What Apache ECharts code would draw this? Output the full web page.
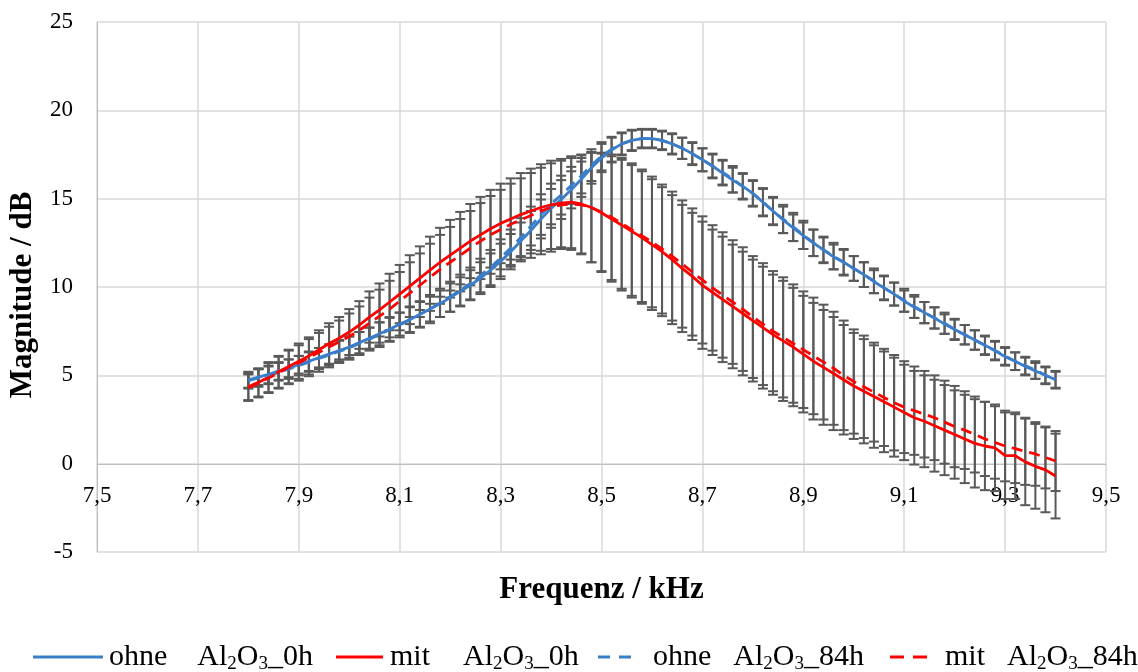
<!DOCTYPE html>
<html><head><meta charset="utf-8">
<script src="https://cdn.jsdelivr.net/npm/echarts@6/dist/echarts.min.js"></script>
<style>html,body{margin:0;padding:0;background:#fff}#c{width:1138px;height:672px}</style>
</head><body><div id="c"></div>
<script>
const freq = [7.80,7.82,7.84,7.86,7.88,7.90,7.92,7.94,7.96,7.98,
8.00,8.02,8.04,8.06,8.08,8.10,8.12,8.14,8.16,8.18,
8.20,8.22,8.24,8.26,8.28,8.30,8.32,8.34,8.36,8.38,
8.40,8.42,8.44,8.46,8.48,8.50,8.52,8.54,8.56,8.58,
8.60,8.62,8.64,8.66,8.68,8.70,8.72,8.74,8.76,8.78,
8.80,8.82,8.84,8.86,8.88,8.90,8.92,8.94,8.96,8.98,
9.00,9.02,9.04,9.06,9.08,9.10,9.12,9.14,9.16,9.18,
9.20,9.22,9.24,9.26,9.28,9.30,9.32,9.34,9.36,9.38,
9.40];

const ohne0h = [4.75,4.9,5.05,5.25,5.4,5.6,5.8,6.0,6.2,6.4,
6.6,6.85,7.1,7.35,7.6,7.9,8.15,8.45,8.75,9.05,
9.4,9.75,10.1,10.5,10.95,11.45,12.0,12.6,13.2,13.85,
14.45,14.95,15.5,16.1,16.75,17.3,17.75,18.1,18.3,18.4,
18.4,18.3,18.1,17.85,17.55,17.2,16.85,16.45,16.05,15.7,
15.3,14.8,14.3,13.8,13.35,12.9,12.5,12.1,11.7,11.4,
11.05,10.7,10.3,9.95,9.6,9.2,8.85,8.55,8.25,7.9,
7.6,7.3,7.0,6.7,6.4,6.05,5.8,5.5,5.25,5.0,
4.75];

const mit0h = [4.35,4.6,4.9,5.2,5.5,5.8,6.1,6.45,6.8,7.1,
7.45,7.85,8.3,8.7,9.15,9.6,10.05,10.5,10.95,11.4,
11.8,12.2,12.6,12.95,13.3,13.6,13.85,14.1,14.3,14.5,
14.65,14.75,14.8,14.7,14.5,14.2,13.85,13.5,13.15,12.8,
12.4,12.0,11.55,11.05,10.6,10.1,9.7,9.3,8.9,8.5,
8.1,7.7,7.3,6.95,6.6,6.2,5.8,5.45,5.1,4.75,
4.4,4.1,3.8,3.5,3.2,2.9,2.6,2.4,2.15,1.9,
1.65,1.4,1.15,1.0,0.9,0.45,0.45,0.1,-0.15,-0.35,
-0.7];

const ohne84h = [4.7,4.85,5.0,5.2,5.35,5.55,5.75,5.95,6.15,6.35,
6.55,6.8,7.05,7.3,7.6,7.85,8.15,8.45,8.75,9.1,
9.45,9.8,10.2,10.65,11.1,11.65,12.2,12.8,13.45,14.1,
14.7,15.2,15.75,16.3,16.9,17.4,17.8,18.1,18.3,18.4,
18.4,18.3,18.1,17.85,17.55,17.2,16.85,16.5,16.1,15.7,
15.3,14.8,14.3,13.85,13.4,12.95,12.5,12.1,11.75,11.4,
11.05,10.7,10.35,9.95,9.6,9.25,8.9,8.55,8.25,7.95,
7.6,7.3,7.0,6.7,6.4,6.1,5.8,5.55,5.3,5.0,
4.75];

const mit84h = [4.3,4.55,4.85,5.15,5.45,5.7,6.0,6.3,6.6,6.9,
7.2,7.55,7.95,8.35,8.75,9.2,9.65,10.1,10.55,11.0,
11.4,11.8,12.2,12.6,12.95,13.25,13.55,13.8,14.05,14.3,
14.5,14.65,14.7,14.65,14.5,14.25,13.95,13.6,13.25,12.9,
12.55,12.15,11.75,11.3,10.85,10.4,9.95,9.55,9.15,8.75,
8.3,7.9,7.5,7.15,6.8,6.45,6.1,5.75,5.4,5.0,
4.65,4.35,4.05,3.75,3.45,3.2,3.0,2.8,2.6,2.35,
2.1,1.9,1.65,1.4,1.2,1.0,0.85,0.7,0.55,0.35,
0.15];

const errOhne0h = [0.45,0.45,0.5,0.5,0.5,0.5,0.55,0.55,0.55,0.6,
0.6,0.6,0.6,0.65,0.65,0.65,0.7,0.7,0.7,0.75,
0.8,0.8,0.85,0.9,0.95,1.0,1.0,1.05,1.1,1.1,
1.1,1.1,1.05,1.0,0.9,0.8,0.7,0.6,0.55,0.5,
0.5,0.5,0.55,0.6,0.6,0.65,0.65,0.7,0.7,0.7,
0.7,0.75,0.75,0.75,0.75,0.75,0.75,0.7,0.7,0.7,
0.7,0.7,0.65,0.65,0.65,0.6,0.6,0.6,0.6,0.55,
0.55,0.55,0.55,0.5,0.5,0.5,0.5,0.5,0.45,0.45,
0.45];
const errOhne84h = [0.45,0.5,0.5,0.5,0.55,0.55,0.55,0.6,0.6,0.6,
0.65,0.65,0.65,0.7,0.7,0.7,0.75,0.75,0.8,0.8,
0.85,0.9,0.9,0.95,1.0,1.05,1.05,1.1,1.1,1.15,
1.15,1.1,1.05,1.0,0.9,0.8,0.7,0.65,0.6,0.55,
0.55,0.55,0.6,0.6,0.65,0.65,0.7,0.7,0.75,0.75,
0.75,0.8,0.8,0.8,0.8,0.8,0.75,0.75,0.75,0.75,
0.7,0.7,0.7,0.7,0.65,0.65,0.65,0.6,0.6,0.6,
0.6,0.55,0.55,0.55,0.55,0.5,0.5,0.5,0.5,0.5,
0.5];
const errMit0h = [0.75,0.8,0.85,0.9,0.95,1.0,1.05,1.1,1.15,1.2,
1.3,1.35,1.45,1.5,1.6,1.65,1.75,1.8,1.9,1.95,
2.0,2.05,2.1,2.15,2.2,2.25,2.3,2.35,2.4,2.45,
2.5,2.5,2.6,2.8,3.1,3.35,3.55,3.7,3.75,3.75,
3.7,3.65,3.65,3.6,3.6,3.6,3.55,3.55,3.5,3.5,
3.45,3.45,3.4,3.4,3.35,3.3,3.3,3.25,3.2,3.1,
3.0,2.95,2.9,2.85,2.8,2.7,2.65,2.6,2.6,2.55,
2.5,2.5,2.5,2.5,2.45,2.45,2.45,2.45,2.4,2.4,
2.4];
const errMit84h = [0.75,0.8,0.85,0.9,0.95,1.0,1.05,1.1,1.15,1.2,
1.3,1.35,1.45,1.5,1.6,1.65,1.75,1.8,1.9,1.95,
2.0,2.05,2.1,2.15,2.2,2.25,2.3,2.35,2.4,2.45,
2.5,2.5,2.6,2.8,3.1,3.35,3.55,3.7,3.75,3.75,
3.7,3.65,3.65,3.6,3.6,3.6,3.55,3.55,3.5,3.5,
3.45,3.45,3.4,3.4,3.35,3.3,3.3,3.25,3.2,3.1,
2.95,2.9,2.8,2.75,2.7,2.6,2.5,2.45,2.4,2.35,
2.3,2.2,2.15,2.1,2.05,2.0,1.95,1.9,1.8,1.75,
1.7];

const seriesNames = ['ohne Al2O3_0h','mit Al2O3_0h','ohne Al2O3_84h','mit Al2O3_84h'];
const legendLabels = {
  'ohne Al2O3_0h': '{t|ohne}{g| }{t|Al}{s|2}{t|O}{s|3}{t|_0h}',
  'mit Al2O3_0h': '{t|mit}{g| }{t|Al}{s|2}{t|O}{s|3}{t|_0h}',
  'ohne Al2O3_84h': '{t|ohne}{g| }{t|Al}{s|2}{t|O}{s|3}{t|_84h}',
  'mit Al2O3_84h': '{t|mit}{g| }{t|Al}{s|2}{t|O}{s|3}{t|_84h}'
};

const FONT = '"Liberation Serif","Times New Roman",serif';
const BLUE = '#3a7dc9';
const RED = '#ff0000';
const ERR = '#595959';

function pairs(vals){ return freq.map((f,i)=>[f, vals[i]]); }
function errData(vals, err){ return freq.map((f,i)=>[f, vals[i]-err[i], vals[i]+err[i]]); }
function errRender(params, api){
  const x = api.value(0), lo = api.value(1), hi = api.value(2);
  const p1 = api.coord([x, hi]), p2 = api.coord([x, lo]);
  const hw = 5;
  const st = {stroke: ERR, lineWidth: 2};
  return {type:'group', children:[
    {type:'line', shape:{x1:p1[0],y1:p1[1],x2:p2[0],y2:p2[1]}, style: st},
    {type:'line', shape:{x1:p1[0]-hw,y1:p1[1],x2:p1[0]+hw,y2:p1[1]}, style: st},
    {type:'line', shape:{x1:p2[0]-hw,y1:p2[1],x2:p2[0]+hw,y2:p2[1]}, style: st}
  ]};
}
function errSeries(vals, err){
  return {type:'custom', renderItem: errRender, data: errData(vals, err),
    encode:{x:0, y:[1,2]}, z:1, silent:true, clip:false};
}
function lineSeries(name, vals, color, dashed){
  return {name, type:'line', data: pairs(vals), symbol:'none', z:3,
    lineStyle:{color, width:2.8, type: dashed ? [11,7] : 'solid'},
    itemStyle:{color}, emphasis:{disabled:true}};
}

function richText(gap){
  return {
    t:{fontFamily:FONT, fontSize:30, color:'#000', lineHeight:34},
    g:{fontFamily:FONT, fontSize:30, width:gap, lineHeight:34},
    s:{fontFamily:FONT, fontSize:19, color:'#000', verticalAlign:'bottom', lineHeight:14}
  };
}
function legendFor(name, left, w, icon, padLeft, gap){
  return {data:[name], left, top:642, padding:0, itemWidth:w, itemHeight:3, itemGap:0,
    icon, itemStyle:{borderWidth:0},
    formatter: n => legendLabels[n],
    textStyle:{fontFamily:FONT, fontSize:30, color:'#000', rich: richText(gap), padding:[0,0,0,padLeft]}};
}

const chart = echarts.init(document.getElementById('c'));
chart.setOption({
  animation:false,
  backgroundColor:'#fff',
  grid:{left:97, right:32, top:22, bottom:120, outerBoundsMode:'none'},
  xAxis:{type:'value', min:7.5, max:9.5, interval:0.2, offset:-88,
    axisLine:{onZero:false, lineStyle:{color:'#bfbfbf', width:1}},
    axisTick:{show:false},
    axisLabel:{fontFamily:FONT, fontSize:23, color:'#000', margin:20,
      formatter: v => v.toFixed(1).replace('.', ',')},
    splitLine:{show:true, lineStyle:{color:'#d9d9d9', width:1.5}},
    name:'Frequenz / kHz', nameLocation:'middle', nameGap:110,
    nameTextStyle:{fontFamily:FONT, fontSize:31, fontWeight:'bold', color:'#000'}},
  yAxis:{type:'value', min:-5, max:25, interval:5,
    axisLine:{show:true, lineStyle:{color:'#bfbfbf', width:1}},
    axisTick:{show:false},
    axisLabel:{fontFamily:FONT, fontSize:23, color:'#000', margin:24},
    splitLine:{show:true, lineStyle:{color:'#d9d9d9', width:1.5}},
    name:'Magnitude / dB', nameLocation:'middle', nameGap:59, nameRotate:90,
    nameTextStyle:{fontFamily:FONT, fontSize:31, fontWeight:'bold', color:'#000', padding:[0,16,0,0]}},
  legend:[
    legendFor(seriesNames[0], 33, 70, 'path://M0,0h70v3h-70z', 1, 30),
    legendFor(seriesNames[1], 336, 47, 'path://M0,0h47v3h-47z', 2, 33),
    legendFor(seriesNames[2], 598, 33, 'path://M0,0h12v3h-12z M21,0h12v3h-12z', 17, 22),
    legendFor(seriesNames[3], 890, 37, 'path://M0,0h14v3h-14z M23,0h14v3h-14z', 13, 22)
  ],
  series:[
    errSeries(ohne0h, errOhne0h),
    errSeries(mit0h, errMit0h),
    errSeries(ohne84h, errOhne84h),
    errSeries(mit84h, errMit84h),
    lineSeries(seriesNames[0], ohne0h, BLUE, false),
    lineSeries(seriesNames[1], mit0h, RED, false),
    lineSeries(seriesNames[2], ohne84h, BLUE, true),
    lineSeries(seriesNames[3], mit84h, RED, true)
  ]
});
</script></body></html>
